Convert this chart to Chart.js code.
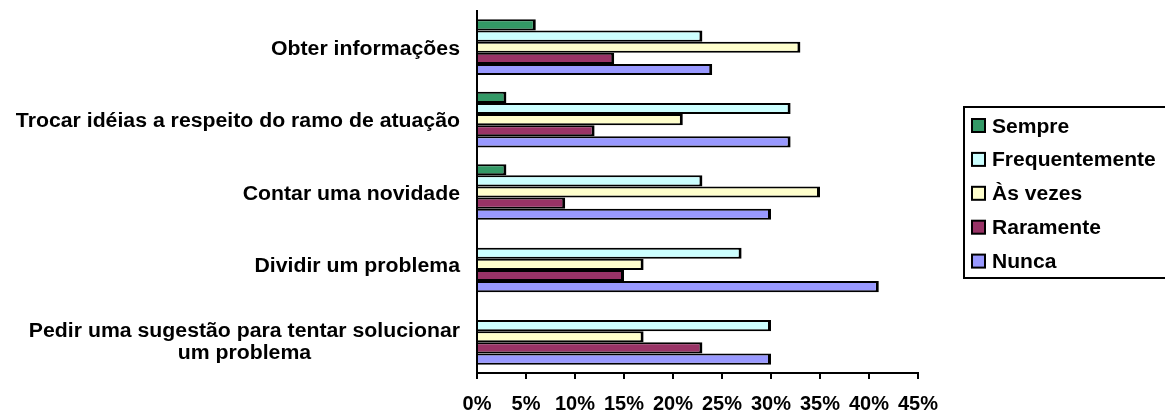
<!DOCTYPE html>
<html>
<head>
<meta charset="utf-8">
<script src="https://cdn.jsdelivr.net/npm/chart.js@4/dist/chart.umd.min.js"></script>
<style>
  html, body { margin: 0; padding: 0; background: #ffffff; }
  canvas { display: block; }
</style>
</head>
<body>
<canvas id="chart" width="1165" height="416"></canvas>
<script>
// Activities (one row per group of bars)
const categories = [
  "Obter informações",
  "Trocar idéias a respeito do ramo de atuação",
  "Contar uma novidade",
  "Dividir um problema",
  ["Pedir uma sugestão para tentar solucionar", "um problema"]
];

// Share of answers per frequency, in percent
const seriesNames = ["Sempre", "Frequentemente", "Às vezes", "Raramente", "Nunca"];
const sempre         = [6, 3, 3, 0, 0];
const frequentemente = [23, 32, 23, 27, 30];
const asVezes        = [33, 21, 35, 17, 17];
const raramente      = [14, 12, 9, 15, 23];
const nunca          = [24, 32, 30, 41, 30];

// Value axis
const axisMin = 0;
const axisMax = 45;
const axisStep = 5;

const seriesColors = ["#339966", "#CCFFFF", "#FFFFCC", "#993366", "#9999FF"];
const seriesValues = [sempre, frequentemente, asVezes, raramente, nunca];

const FONT_FAMILY = "'Liberation Sans', Arial, Helvetica, sans-serif";

const datasets = seriesNames.map((name, i) => ({
  label: name,
  data: seriesValues[i],
  backgroundColor: seriesColors[i],
  borderColor: "#000000",
  borderWidth: { top: 2, bottom: 2, right: 3, left: 0 },
  borderSkipped: "start",
  categoryPercentage: 0.77,
  barPercentage: 1.0
}));

// Draws category names to the left of the axis: block right-aligned,
// lines of a wrapped name centred inside the block.
const categoryLabels = {
  id: "categoryLabels",
  afterDraw(chart) {
    const ctx = chart.ctx;
    const yScale = chart.scales.y;
    const right = 460;
    const sx = 1.09;
    const lineH = 21.7;
    ctx.save();
    ctx.fillStyle = "#000000";
    ctx.font = "bold 19.5px " + FONT_FAMILY;
    ctx.textBaseline = "alphabetic";
    ctx.textAlign = "center";
    chart.data.labels.forEach((lab, idx) => {
      const lines = Array.isArray(lab) ? lab : [lab];
      const n = lines.length;
      const w = Math.max(...lines.map(l => ctx.measureText(l).width)) * sx;
      const cx = right - w / 2;
      const py = yScale.getPixelForValue(idx);
      lines.forEach((line, i) => {
        const y = py + 7.5 + (i - (n - 1) / 2) * lineH + (n - 1) * 3.4;
        ctx.save();
        ctx.translate(cx, y);
        ctx.scale(sx, 1);
        ctx.fillText(line, 0, 0);
        ctx.restore();
      });
    });
    ctx.restore();
  }
};

// Framed legend on the right
const framedLegend = {
  id: "framedLegend",
  afterDraw(chart) {
    const ctx = chart.ctx;
    const left = 964, top = 107, bottom = 278;
    const sx = 1.08;
    ctx.save();
    ctx.lineWidth = 2;
    ctx.strokeStyle = "#000000";
    ctx.strokeRect(left, top, 220, bottom - top);
    ctx.font = "bold 19.5px " + FONT_FAMILY;
    ctx.textBaseline = "alphabetic";
    ctx.textAlign = "left";
    chart.data.datasets.forEach((ds, i) => {
      const cy = 125.5 + i * 33.9;
      ctx.fillStyle = ds.backgroundColor;
      ctx.fillRect(972, cy - 6.5, 13, 13);
      ctx.lineWidth = 2;
      ctx.strokeStyle = "#000000";
      ctx.strokeRect(972, cy - 6.5, 13, 13);
      ctx.fillStyle = "#000000";
      ctx.save();
      ctx.translate(992, cy + 7);
      ctx.scale(sx, 1);
      ctx.fillText(ds.label, 0, 0);
      ctx.restore();
    });
    ctx.restore();
  }
};

new Chart(document.getElementById("chart"), {
  type: "bar",
  data: { labels: categories, datasets: datasets },
  plugins: [categoryLabels, framedLegend],
  options: {
    indexAxis: "y",
    responsive: false,
    animation: false,
    devicePixelRatio: 1,
    layout: { padding: { top: 11, right: 247, bottom: 0, left: 0 } },
    plugins: {
      legend: { display: false },
      tooltip: { enabled: false },
      title: { display: false }
    },
    scales: {
      x: {
        type: "linear",
        min: axisMin,
        max: axisMax,
        afterFit(scale) { scale.height = 43; },
        border: { display: true, color: "#000000", width: 2 },
        grid: {
          drawOnChartArea: false,
          drawTicks: true,
          tickLength: 6,
          color: "#000000",
          lineWidth: 2
        },
        ticks: {
          stepSize: axisStep,
          autoSkip: false,
          maxRotation: 0,
          padding: 13,
          color: "#000000",
          font: { family: FONT_FAMILY, size: 20, weight: "bold" },
          callback: v => v + "%"
        }
      },
      y: {
        type: "category",
        afterFit(scale) { scale.width = 477; },
        border: { display: true, color: "#000000", width: 2 },
        grid: { drawOnChartArea: false, drawTicks: false },
        ticks: { display: false }
      }
    }
  }
});
</script>
</body>
</html>
